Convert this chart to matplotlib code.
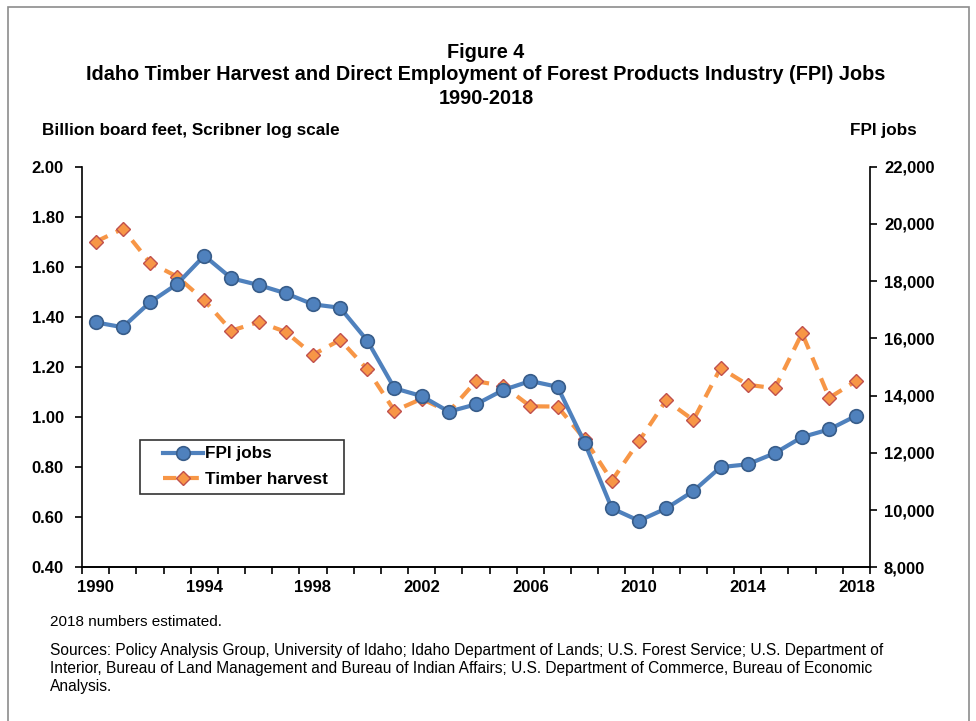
import matplotlib
matplotlib.use("Agg")
import matplotlib.pyplot as plt
from matplotlib.ticker import FixedLocator, FuncFormatter
from matplotlib.patches import Rectangle
from matplotlib.legend_handler import HandlerLine2D

plt.rcParams['font.family'] = ['Liberation Sans', 'DejaVu Sans']

years = list(range(1990, 2019))
fpi_jobs = [16560, 16390, 17260, 17900, 18890, 18100, 17865, 17575, 17190, 17070,
            15920, 14255, 13985, 13440, 13695, 14195, 14510, 14310, 12350, 10060,
            9626, 10060, 10665, 11500, 11600, 11990, 12550, 12820, 13300]
timber_harvest = [1.700, 1.752, 1.617, 1.561, 1.466, 1.345, 1.380, 1.340, 1.249, 1.308,
                  1.191, 1.025, 1.073, 1.021, 1.143, 1.125, 1.043, 1.042, 0.912, 0.746,
                  0.904, 1.067, 0.988, 1.196, 1.129, 1.115, 1.335, 1.077, 1.145]
x_labels = [1990, 1994, 1998, 2002, 2006, 2010, 2014, 2018]
left_ticks = [0.40, 0.60, 0.80, 1.00, 1.20, 1.40, 1.60, 1.80, 2.00]
right_ticks = [8000, 10000, 12000, 14000, 16000, 18000, 20000, 22000]

W, H = 976, 721
fig = plt.figure(figsize=(W / 100, H / 100), dpi=100)
fig.patch.set_facecolor('white')

# outer frame
fig.add_artist(Rectangle((8 / W, -0.01), (969 - 8) / W, 1 - 7 / H + 0.01,
                         transform=fig.transFigure, fill=False,
                         edgecolor='#8c8c8c', linewidth=1.2))

AX_L, AX_R, AX_T, AX_B = 82, 870, 166.7, 567.3
ax = fig.add_axes([AX_L / W, 1 - AX_B / H, (AX_R - AX_L) / W, (AX_B - AX_T) / H])
ax2 = ax.twinx()

blue = '#4F81BD'
blue_edge = '#385D8A'
orange = '#F79646'
orange_edge = '#C0504D'

l2, = ax.plot(years, timber_harvest, color=orange, linestyle=(0, (3.2, 2.2)),
              linewidth=3.0, marker='D', markersize=7.5,
              markerfacecolor=orange, markeredgecolor=orange_edge,
              markeredgewidth=1.0, label='Timber harvest', zorder=3)
l1, = ax2.plot(years, fpi_jobs, color=blue, linewidth=3.0, marker='o',
               markersize=9.8, markerfacecolor=blue, markeredgecolor=blue_edge,
               markeredgewidth=1.2, label='FPI jobs', zorder=3)

ax.set_xlim(1989.5, 2018.5)
ax.set_ylim(0.40, 2.00)
ax2.set_ylim(8000, 22000)

ax.xaxis.set_major_locator(FixedLocator(x_labels))
ax.xaxis.set_minor_locator(FixedLocator([y - 0.5 for y in years] + [2018.5]))
ax.tick_params(axis='x', which='major', length=0, pad=9)
ax.tick_params(axis='x', which='minor', length=5, width=1.2, direction='out', color='black')

ax.set_yticks(left_ticks)
ax.yaxis.set_major_formatter(FuncFormatter(lambda v, p: f"{v:.2f}"))
ax.tick_params(axis='y', length=5, width=1.2, direction='out', pad=8)
ax2.set_yticks(right_ticks)
ax2.yaxis.set_major_formatter(FuncFormatter(lambda v, p: f"{int(v):,}"))
ax2.tick_params(axis='y', length=5, width=1.2, direction='out', pad=5)

for a in (ax, ax2):
    a.spines['top'].set_visible(False)
    for s in ('left', 'right', 'bottom'):
        a.spines[s].set_linewidth(1.2)
        a.spines[s].set_color('black')
    for lab in a.get_xticklabels() + a.get_yticklabels():
        lab.set_fontweight('bold')
        lab.set_fontsize(12)
ax2.spines['left'].set_visible(False)
ax.spines['right'].set_visible(False)


class OffsetHandler(HandlerLine2D):
    def __init__(self, offset_px, **kw):
        super().__init__(**kw)
        self.offset_px = offset_px

    def create_artists(self, legend, orig_handle, xdescent, ydescent, width,
                       height, fontsize, trans):
        d = self.offset_px * 72.0 / fig.dpi
        return super().create_artists(legend, orig_handle, xdescent - d, ydescent,
                                      width - d, height, fontsize, trans)


LEG_L, LEG_R, LEG_T, LEG_B = 140, 344, 440, 492
aw, ah = AX_R - AX_L, AX_B - AX_T
leg = ax2.legend(handles=[l1, l2], loc='upper left',
                 bbox_to_anchor=((LEG_L - AX_L) / aw, (AX_B - LEG_B) / ah,
                                 (LEG_R - LEG_L) / aw, (LEG_B - LEG_T) / ah),
                 mode='expand',
                 handler_map={l1: OffsetHandler(17), l2: OffsetHandler(17)},
                 frameon=True, fancybox=False, edgecolor='black',
                 prop={'weight': 'bold', 'size': 12.3}, handlelength=3.3,
                 handletextpad=0.1, borderpad=0.38, labelspacing=0.62,
                 borderaxespad=0)
leg.get_frame().set_linewidth(1.2)
leg.set_zorder(5)

tkw = dict(ha='center', va='center', fontweight='bold', fontsize=14.3)
fig.text(486 / W, 1 - 52 / H, 'Figure 4', **tkw)
fig.text(486 / W, 1 - 75 / H,
         'Idaho Timber Harvest and Direct Employment of Forest Products Industry (FPI) Jobs', **tkw)
fig.text(486 / W, 1 - 98 / H, '1990-2018', **tkw)

fig.text(42 / W, 1 - 130 / H, 'Billion board feet, Scribner log scale',
         ha='left', va='center', fontweight='bold', fontsize=12.3)
fig.text(917 / W, 1 - 130 / H, 'FPI jobs', ha='right', va='center',
         fontweight='bold', fontsize=12.3)

fig.text(50 / W, 1 - 622 / H, '2018 numbers estimated.', ha='left', va='center', fontsize=11)
source_lines = [
    'Sources: Policy Analysis Group, University of Idaho; Idaho Department of Lands; '
    'U.S. Forest Service; U.S. Department of',
    'Interior, Bureau of Land Management and Bureau of Indian Affairs; '
    'U.S. Department of Commerce, Bureau of Economic',
    'Analysis.',
]
for i, line in enumerate(source_lines):
    fig.text(50 / W, 1 - (651 + 18 * i) / H, line, ha='left', va='center', fontsize=11.2)

fig.savefig('out.png', dpi=100)
